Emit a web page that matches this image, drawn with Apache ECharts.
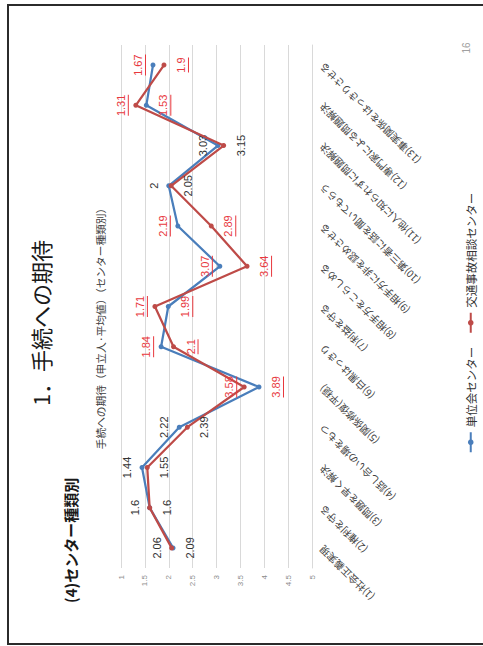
<!DOCTYPE html>
<html>
<head>
<meta charset="utf-8">
<script src="https://cdn.jsdelivr.net/npm/echarts@6/dist/echarts.min.js"></script>
<style>
  html, body { margin: 0; padding: 0; background: #fff; width: 483px; height: 646px; overflow: hidden; }
  /* the slide is laid out in landscape and turned a quarter turn counter-clockwise */
  #slide {
    position: absolute; left: 0; top: 0;
    width: 646px; height: 483px;
    transform-origin: 0 0;
    transform: rotate(-90deg) translateX(-646px);
    background: #fff;
  }
</style>
</head>
<body>
<div id="slide"></div>
<script>
// ---- data ----
const categories = [
  '(1)社会正義実現',
  '(2)権利を守る',
  '(3)問題を早く解決',
  '(4)話し合いの場をもつ',
  '(5)関係修復(平穏)',
  '(6)白黒はっきり',
  '(7)利益を守る',
  '(8)相手方をこらしめる',
  '(9)相手方に非を認めさせる',
  '(10)第三者に話を聞いてもらう',
  '(11)他人に知られずに問題解決',
  '(12)専門家による問題解決',
  '(13)事実関係をはっきりさせる'
];
const seriesNames = ['単位会センター', '交通事故相談センター'];
const unitCenter    = [2.09, 1.6, 1.44, 2.22, 3.89, 1.84, 1.99, 3.07, 2.19, 2,    3.03, 1.53, 1.67];
const trafficCenter = [2.06, 1.6, 1.55, 2.39, 3.58, 2.1,  1.71, 3.64, 2.89, 2.05, 3.15, 1.31, 1.9];
// categories whose values are called out in red with an underline
const emphasized = [false, false, false, false, true, true, true, true, true, false, false, true, true];
const valueMin = 1, valueMax = 5, valueStep = 0.5;

// ---- styling ----
const numFont = 'Liberation Sans';
const jpFont = '"Noto Sans CJK JP"';
const labelSize = 11;
const plainColor = '#333333';
const redColor = '#e8383d';
const blue = '#4a7ebb';
const red = '#be4b48';

const measureCtx = document.createElement('canvas').getContext('2d');
measureCtx.font = labelSize + 'px ' + numFont;
function textWidth(s) { return Math.round(measureCtx.measureText(s).width); }

// smaller value of a pair sits above its point, larger one below
function labelFor(value, other, isFirst, marked) {
  const above = isFirst ? value <= other : value < other;
  const txt = String(value);
  const rich = {
    n: { color: plainColor, fontSize: labelSize, fontFamily: numFont, lineHeight: 13, align: 'center' },
    r: { color: redColor, fontSize: labelSize, fontFamily: numFont, lineHeight: 13, align: 'center' },
    u: { width: textWidth(txt), height: 1, lineHeight: 2, fontSize: 1, backgroundColor: redColor, align: 'center' }
  };
  return {
    show: true,
    position: above ? 'top' : 'bottom',
    distance: above ? (marked ? 4 : 6) : 8,
    formatter: marked ? '{r|' + txt + '}\n{u| }' : '{n|' + txt + '}',
    rich: rich
  };
}

function buildData(values, others, isFirst) {
  return values.map((v, i) => ({
    value: v,
    label: labelFor(v, others[i], isFirst, emphasized[i])
  }));
}

const chart = echarts.init(document.getElementById('slide'), null, { renderer: 'svg', width: 646, height: 483 });

chart.setOption({
  animation: false,
  backgroundColor: '#ffffff',
  textStyle: { fontFamily: jpFont },
  graphic: [
    { type: 'rect', silent: true, shape: { x: 2, y: 8, width: 639, height: 520 },
      style: { fill: 'none', stroke: '#2b2b2b', lineWidth: 2 } },
    { type: 'text', silent: true, x: 323, y: 40,
      style: { text: '1．手続への期待', fontSize: 22, fontFamily: jpFont, fill: '#1a1a1a', align: 'center', verticalAlign: 'middle' } },
    { type: 'text', silent: true, x: 43, y: 70,
      style: { text: '(4)センター種類別', fontSize: 15, fontWeight: 'bold', fontFamily: jpFont, fill: '#1a1a1a', align: 'left', verticalAlign: 'middle' } },
    { type: 'text', silent: true, x: 320, y: 100,
      style: { text: '手続への期待（申立人·平均値）（センター種類別）', fontSize: 10.7, fontFamily: jpFont, fill: '#404040', align: 'center', verticalAlign: 'middle' } },
    { type: 'text', silent: true, x: 598, y: 466,
      style: { text: '16', fontSize: 10, fontFamily: numFont, fill: '#a0a0a0', align: 'center', verticalAlign: 'middle' } }
  ],
  legend: {
    data: seriesNames,
    left: 'center',
    top: 460,
    itemWidth: 20,
    itemHeight: 7,
    itemGap: 13,
    textStyle: { fontSize: 11.5, color: '#333', fontFamily: jpFont }
  },
  grid: { left: 78, right: 45, top: 121, bottom: 171 },
  xAxis: {
    type: 'category',
    data: categories,
    boundaryGap: true,
    axisLine: { show: true, lineStyle: { color: '#d9d9d9', width: 1 } },
    axisTick: { show: false },
    axisLabel: { interval: 0, rotate: 45, margin: 9, fontSize: 10, color: '#404040', fontFamily: jpFont }
  },
  yAxis: {
    type: 'value',
    inverse: true,
    min: valueMin,
    max: valueMax,
    interval: valueStep,
    axisLine: { show: false },
    axisTick: { show: false },
    splitLine: { lineStyle: { color: '#d9d9d9', width: 1 } },
    axisLabel: { fontSize: 8, color: '#8c8c8c', margin: 7, fontFamily: numFont }
  },
  series: [
    {
      name: seriesNames[0], type: 'line',
      data: buildData(unitCenter, trafficCenter, true),
      symbol: 'circle', symbolSize: 5,
      itemStyle: { color: blue },
      lineStyle: { color: blue, width: 2.25 },
      z: 2
    },
    {
      name: seriesNames[1], type: 'line',
      data: buildData(trafficCenter, unitCenter, false),
      symbol: 'circle', symbolSize: 5,
      itemStyle: { color: red },
      lineStyle: { color: red, width: 2.25 },
      z: 3
    }
  ]
});
</script>
</body>
</html>
